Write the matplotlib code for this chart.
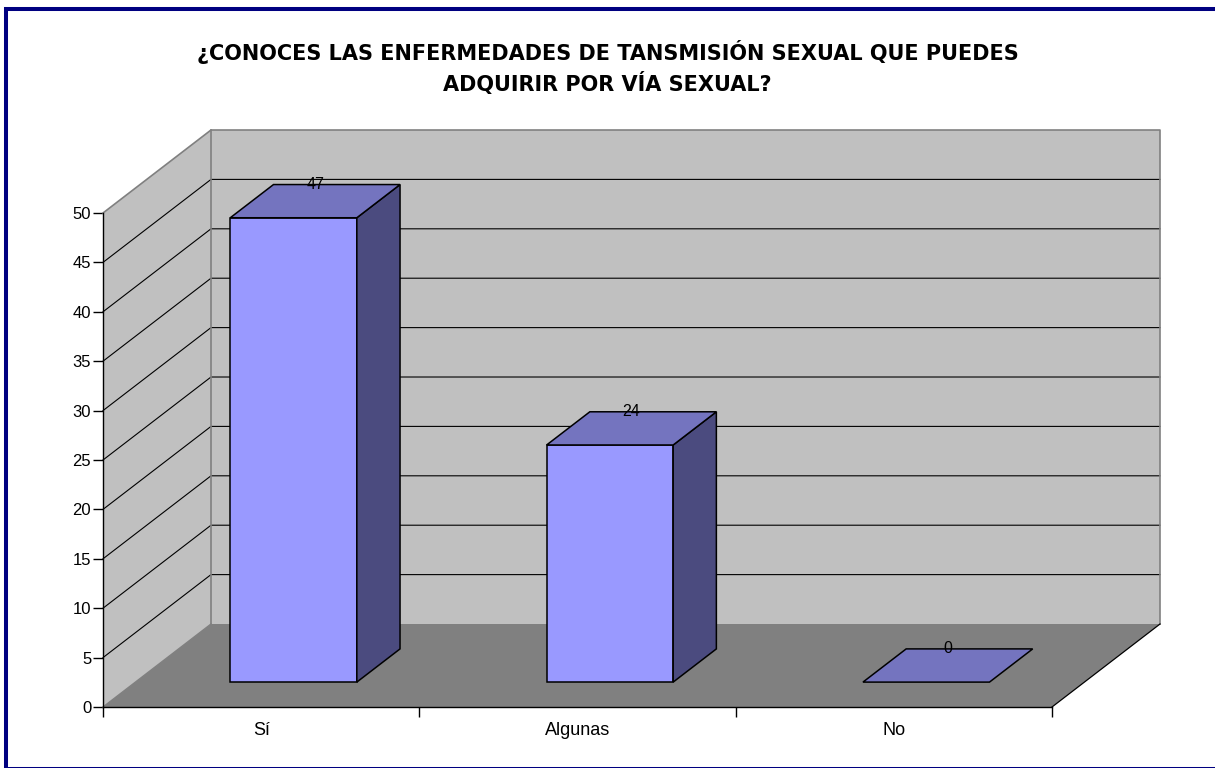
import matplotlib
matplotlib.use("Agg")
import matplotlib.pyplot as plt
from matplotlib.patches import Polygon, Rectangle

plt.rcParams['font.family'] = ['Liberation Sans', 'DejaVu Sans']

# ---- data ----
title_lines = ["¿CONOCES LAS ENFERMEDADES DE TANSMISIÓN SEXUAL QUE PUEDES",
               "ADQUIRIR POR VÍA SEXUAL?"]
categories = ["Sí", "Algunas", "No"]
values = [47, 24, 0]
y_ticks = list(range(0, 55, 5))

# ---- style ----
DX = 0.3414     # depth offset in x (category units)
DY = 8.4        # depth offset in y (value units)
D0, D1 = 0.3, 0.7   # bar front/back depth fractions
HALF_W = 0.2
YMAX = 50
col_wall = "#C0C0C0"
col_floor = "#808080"
col_front = "#9999FF"
col_top = "#7474BF"
col_side = "#4B4B7F"
edge_gray = "#808080"

fig = plt.figure(figsize=(12.15, 7.68), dpi=100)
fig.patch.set_facecolor("white")
ax = fig.add_axes([103/1215, 61/768, 949/1215, 494/768])
n = len(categories)
ax.set_xlim(0, n)
ax.set_ylim(0, YMAX)
ax.patch.set_visible(False)

def poly(pts, fc, ec="none", lw=0, z=1):
    p = Polygon(pts, closed=True, facecolor=fc, edgecolor=ec, linewidth=lw,
                clip_on=False, zorder=z, joinstyle="miter")
    ax.add_patch(p)

# left wall
poly([(0, 0), (DX, DY), (DX, YMAX + DY), (0, YMAX)], col_wall, z=1)
# back wall
poly([(DX, DY), (n + DX, DY), (n + DX, YMAX + DY), (DX, YMAX + DY)], col_wall, z=1)
# floor
poly([(0, 0), (n, 0), (n + DX, DY), (DX, DY)], col_floor, z=1)

# gridlines
for t in y_ticks[1:-1]:
    ax.plot([0, DX, n + DX], [t, t + DY, t + DY], color="black", lw=0.8,
            clip_on=False, zorder=2)
# wall edges
ax.plot([0, DX, n + DX, n + DX], [YMAX, YMAX + DY, YMAX + DY, DY],
        color=edge_gray, lw=1.2, clip_on=False, zorder=2)
ax.plot([DX, DX], [DY, YMAX + DY], color=edge_gray, lw=1.2, clip_on=False, zorder=2)
ax.plot([0, DX], [0, DY], color=edge_gray, lw=1.0, clip_on=False, zorder=2)
ax.plot([n, n + DX], [0, DY], color="black", lw=0.9, clip_on=False, zorder=2)

# bars
for i, v in enumerate(values):
    xc = i + 0.5
    x0 = xc - HALF_W + D0 * DX
    x1 = xc + HALF_W + D0 * DX
    y0 = D0 * DY
    ddx = (D1 - D0) * DX
    ddy = (D1 - D0) * DY
    if v > 0:
        poly([(x0, y0), (x1, y0), (x1, y0 + v), (x0, y0 + v)], col_front, "black", 1.1, 4)
        poly([(x1, y0), (x1 + ddx, y0 + ddy), (x1 + ddx, y0 + ddy + v), (x1, y0 + v)],
             col_side, "black", 1.1, 4)
    poly([(x0, y0 + v), (x1, y0 + v), (x1 + ddx, y0 + ddy + v), (x0 + ddx, y0 + ddy + v)],
         col_top, "black", 1.1, 4)
    ax.text(xc + 0.5 * DX, v + D1 * DY, str(v), ha="center", va="center",
            fontsize=11.5, color="black", zorder=6, clip_on=False)

# axes spines / ticks
for s in ["top", "right"]:
    ax.spines[s].set_visible(False)
for s in ["left", "bottom"]:
    ax.spines[s].set_color("black")
    ax.spines[s].set_linewidth(1.0)
    ax.spines[s].set_zorder(5)
ax.set_yticks(y_ticks)
ax.set_yticklabels([str(t) for t in y_ticks])
ax.tick_params(axis="y", length=7, width=1.0, pad=1.5, labelsize=12, direction="out")
ax.set_xticks(range(n + 1))
ax.set_xticklabels([""] * (n + 1))
ax.set_xticks([i + 0.5 for i in range(n)], minor=True)
ax.set_xticklabels(categories, minor=True)
ax.tick_params(axis="x", which="major", length=7, width=1.0, direction="out")
ax.tick_params(axis="x", which="minor", length=0, pad=11, labelsize=13)

fig.text(0.5, 1 - 52/768, title_lines[0], ha="center", va="center",
         fontsize=15, fontweight="bold", family="DejaVu Sans")
fig.text(0.5, 1 - 84/768, title_lines[1], ha="center", va="center",
         fontsize=15, fontweight="bold", family="DejaVu Sans")

# navy frame (partially clipped at right/bottom like the reference)
fig.patches.append(Rectangle((6/1215, -1/768), 1212/1215, 760/768, transform=fig.transFigure,
                             fill=False, edgecolor="#000080", linewidth=2.9))

fig.savefig("out.png", dpi=100)
